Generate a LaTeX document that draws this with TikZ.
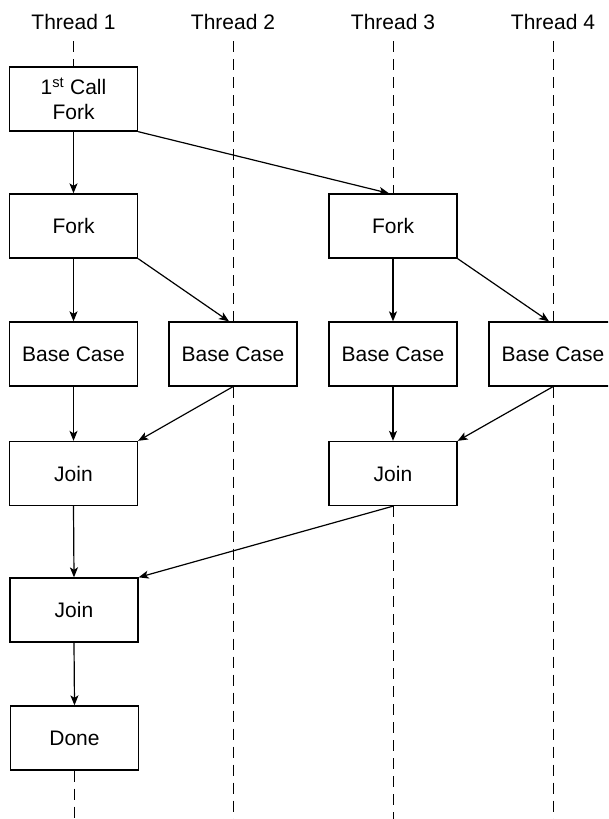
\documentclass[tikz,border=0pt]{standalone}
\usepackage{fontspec}
\setmainfont{Liberation Sans}
\usetikzlibrary{arrows.meta}
\begin{document}
\begin{tikzpicture}[x=1pt,y=-1pt,
  box/.style={draw, line width=1.3pt, minimum width=128pt, minimum height=64pt,
    inner sep=0pt, align=center, font=\fontsize{21}{25}\selectfont},
  lbl/.style={anchor=base, inner sep=0pt, font=\fontsize{21}{25}\selectfont},
  conn/.style={line width=1.2pt, -{Stealth[length=10pt,width=8pt,inset=2.5pt]}},
  lane/.style={line width=1pt, dash pattern=on 11pt off 7pt}]
\useasboundingbox (0,0) rectangle (608,819);
\clip (0,0) rectangle (608,819);
% thread labels
\node[lbl] (t1) at (73.5,29) {Thread 1};
\node[lbl] (t2) at (233,29) {Thread 2};
\node[lbl] (t3) at (393,29) {Thread 3};
\node[lbl] (t4) at (553,29) {Thread 4};
% lane ends
\coordinate (l1top) at (73.5,41);
\coordinate (l2top) at (233,41);
\coordinate (l3top) at (393,41);
\coordinate (l4top) at (553,41);
\coordinate (l1bot) at (74.5,819);
\coordinate (l2bot) at (233,819);
\coordinate (l3bot) at (393,819);
\coordinate (l4bot) at (553,819);
% boxes
\node[box] (call) at (73.5,99) {1\textsuperscript{st} Call\\Fork};
\node[box] (fork1) at (73.5,226) {Fork};
\node[box] (fork3) at (393,226) {Fork};
\node[box] (base1) at (73.5,354) {Base Case};
\node[box] (base2) at (233,354) {Base Case};
\node[box] (base3) at (393,354) {Base Case};
\node[box] (base4) at (553,354) {Base Case};
\node[box] (join1) at (73.5,473.5) {Join};
\node[box] (join3) at (393,473.5) {Join};
\node[box] (join2) at (74,610) {Join};
\node[box] (done) at (74.5,738) {Done};
% dashed lanes
\draw[lane] (l1top) -- (call.north);
\draw[lane] (done.south) -- (l1bot);
\draw[lane] (l2top) -- (base2.north);
\draw[lane] (base2.south) -- (l2bot);
\draw[lane] (l3top) -- (fork3.north);
\draw[lane] (join3.south) -- (l3bot);
\draw[lane] (l4top) -- (base4.north);
\draw[lane] (base4.south) -- (l4bot);
% connectors
\draw[conn] (call.south) -- (fork1.north);
\draw[conn] (call.south east) -- ([xshift=-4pt]fork3.north);
\draw[conn] (fork1.south) -- (base1.north);
\draw[conn] (fork1.south east) -- ([xshift=-4pt]base2.north);
\draw[conn] (fork3.south) -- (base3.north);
\draw[conn] (fork3.south east) -- ([xshift=-4pt]base4.north);
\draw[conn] (base1.south) -- (join1.north);
\draw[conn] (base2.south) -- (join1.north east);
\draw[conn] (base3.south) -- (join3.north);
\draw[conn] (base4.south) -- (join3.north east);
\draw[conn] (join1.south) -- (join2.north);
\draw[conn] (join3.south) -- (join2.north east);
\draw[conn] (join2.south) -- (done.north);
\end{tikzpicture}
\end{document}
